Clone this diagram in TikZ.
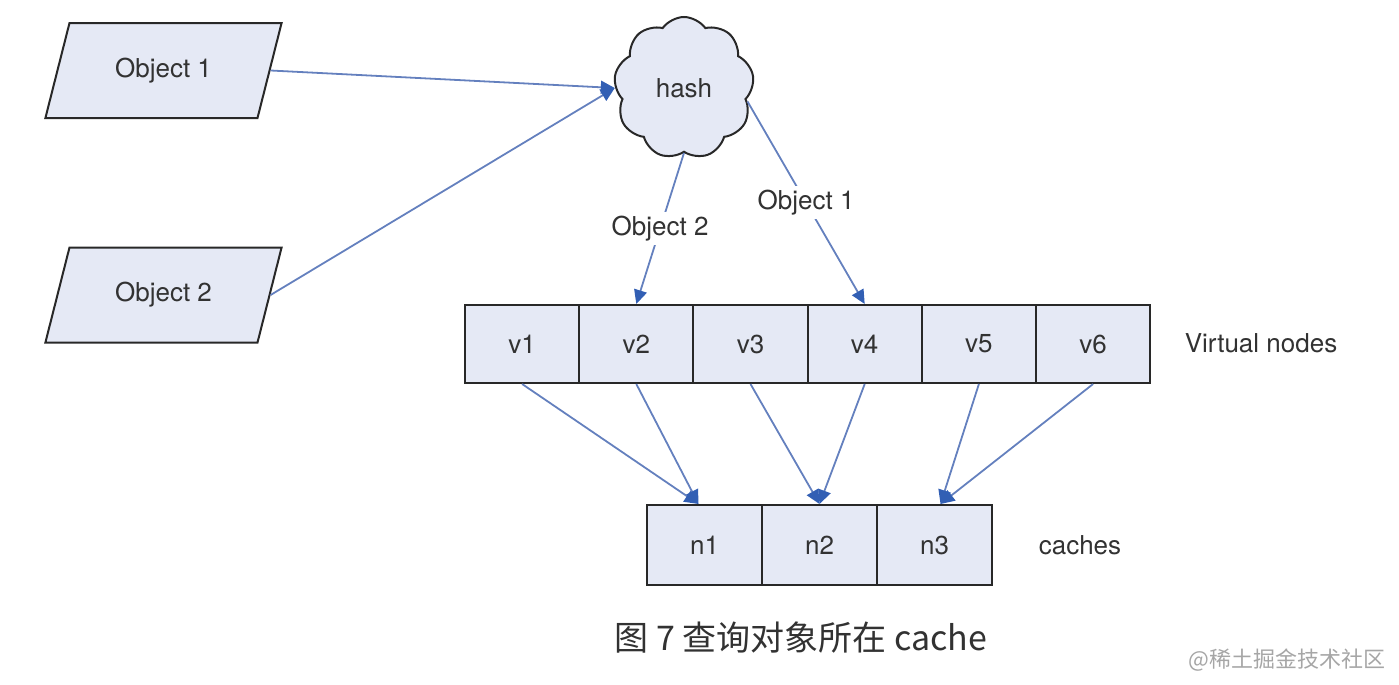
\documentclass[tikz,border=0pt]{standalone}
\usepackage{fontspec}
\setmainfont{TeX Gyre Heros}
\newfontfamily\cjk{Noto Sans CJK SC}
\usetikzlibrary{shapes.geometric,shapes.symbols,arrows.meta}
\definecolor{boxfill}{RGB}{229,233,245}
\definecolor{boxline}{RGB}{40,40,40}
\definecolor{arrowline}{RGB}{100,128,190}
\definecolor{arrowtip}{RGB}{50,95,180}
\definecolor{txt}{RGB}{50,50,50}
\begin{document}
\begin{tikzpicture}[x=0.5pt,y=-0.5pt,
  every node/.style={font=\fontsize{13}{15}\selectfont, text=txt},
  objbox/.style={trapezium, trapezium left angle=63.7, trapezium right angle=116.3,
    trapezium stretches=true, draw=boxline, line width=1pt, fill=boxfill,
    minimum width=118.5pt, minimum height=47.5pt, inner sep=0pt},
  cloudbox/.style={cloud, cloud puffs=9, cloud puff arc=110, cloud ignores aspect,
    draw=boxline, line width=1pt, fill=boxfill, minimum width=70pt, minimum height=71pt, inner sep=0pt},
  vcell/.style={rectangle, draw=boxline, line width=1pt, fill=boxfill,
    minimum width=57.1pt, minimum height=39pt, inner sep=0pt},
  ccell/.style={rectangle, draw=boxline, line width=1pt, fill=boxfill,
    minimum width=57.5pt, minimum height=40pt, inner sep=0pt},
  conn/.style={draw=arrowline, line width=0.9pt, -{Triangle[length=7pt,width=6.5pt,color=arrowtip]}},
  lbl/.style={fill=white, inner sep=2pt},
  plain/.style={inner sep=0pt}
]
\useasboundingbox (0,0) rectangle (1399,685);

% objects
\node[objbox] (o1) at (163.5,70.5) {Object 1};
\node[objbox] (o2) at (163.5,295) {Object 2};

% hash cloud
\node[cloudbox] (hash) at (684,88) {hash};

% virtual nodes
\foreach \i in {1,...,6} {
  \node[vcell] (v\i) at ({465+57.1+114.2*(\i-1)},344) {v\i};
}
\node[plain] (vlabel) at (1261,343) {Virtual nodes};

% caches
\foreach \i in {1,2,3} {
  \node[ccell] (n\i) at ({647+57.5+115*(\i-1)},545) {n\i};
}
\node[plain] (clabel) at (1080,545) {caches};

% connectors
\draw[conn] (o1.east) -- (hash.west);
\draw[conn] (o2.east) -- (hash.west);
\draw[conn] (hash.south) -- node[lbl] {Object 2} (v2.north);
\draw[conn] (hash.-12) -- node[lbl] {Object 1} (v4.north);

\draw[conn] (v1.south) -- ([xshift=-3pt]n1.north);
\draw[conn] (v2.south) -- ([xshift=-3pt]n1.north);
\draw[conn] (v3.south) -- (n2.north);
\draw[conn] (v4.south) -- (n2.north);
\draw[conn] (v5.south) -- ([xshift=3pt]n3.north);
\draw[conn] (v6.south) -- ([xshift=3pt]n3.north);

% caption and watermark
\node[plain, font=\cjk\fontsize{17}{20}\selectfont, text=txt] (cap) at (801,638) {图 7 查询对象所在 cache};
\node[plain, anchor=east, font=\cjk\fontsize{11}{13}\selectfont, text=black!35] (wm) at (1386,660) {@稀土掘金技术社区};
\end{tikzpicture}
\end{document}
